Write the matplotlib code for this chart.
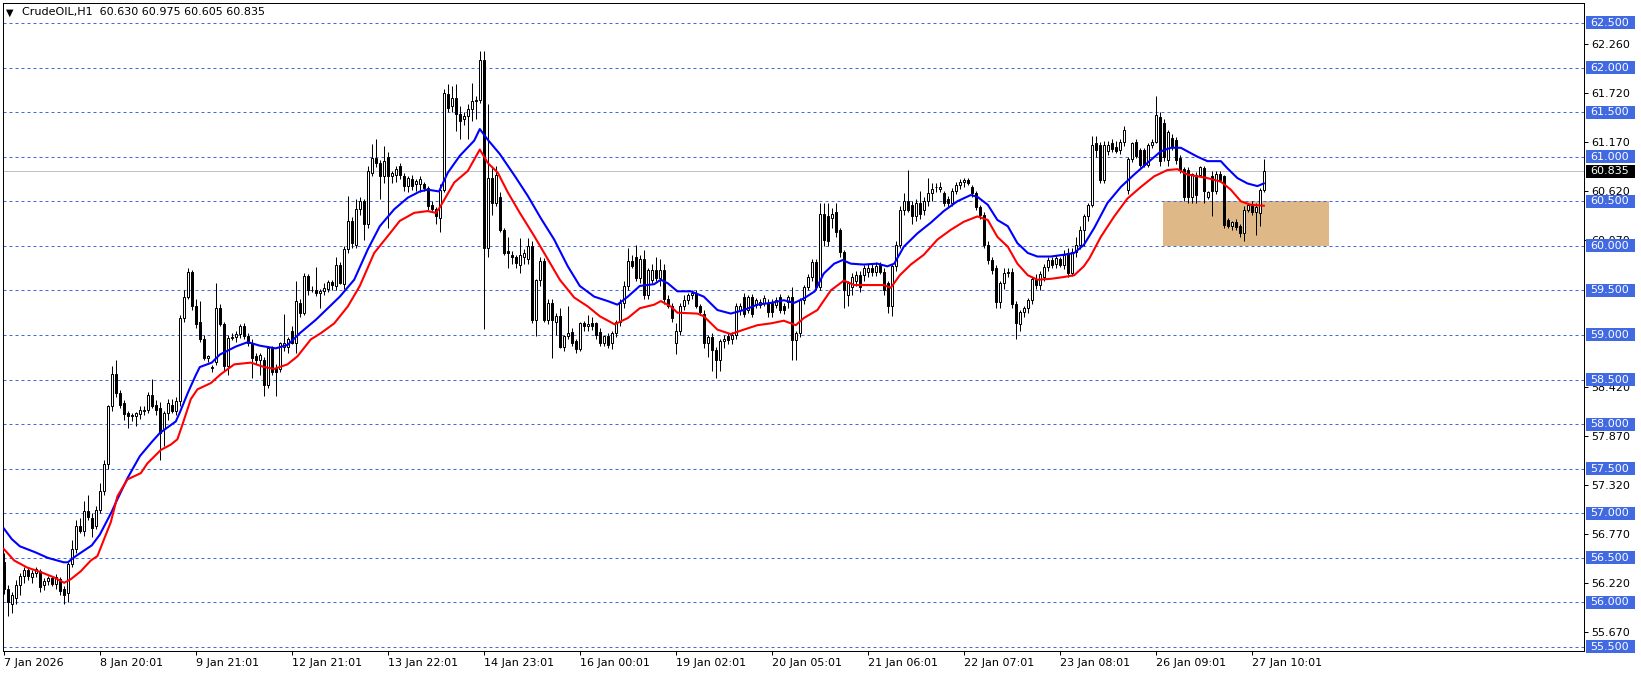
import numpy as np
import matplotlib.pyplot as plt
from matplotlib.patches import Rectangle
from matplotlib.transforms import blended_transform_factory

symbol = "CrudeOIL,H1"

# hourly candles (bar 0 = 7 Jan 2026)
opens = [
    56.45, 56.15, 55.98, 56.05, 56.20, 56.30, 56.36, 56.28, 56.33, 56.35,
    56.19, 56.24, 56.27, 56.21, 56.26, 56.15, 56.11, 56.43, 56.60, 56.86,
    56.80, 57.03, 56.95, 56.86, 57.04, 57.25, 57.55, 58.20, 58.56, 58.35,
    58.24, 58.13, 58.09, 58.09, 58.11, 58.15, 58.16, 58.33, 58.22, 58.18,
    57.95, 58.13, 58.22, 58.15, 58.26, 59.19, 59.43, 59.71, 59.32, 59.15,
    58.95, 58.74, 58.63, 58.70, 59.30, 59.12, 58.65, 58.97, 58.98, 59.01,
    59.10, 58.99, 58.91, 58.76, 58.72, 58.72, 58.44, 58.85, 58.63, 58.62,
    58.87, 58.87, 59.04, 58.91, 59.36, 59.25, 59.66, 59.51, 59.51, 59.47,
    59.49, 59.52, 59.59, 59.55, 59.79, 59.57, 59.97, 60.28, 60.01, 60.41,
    60.50, 60.24, 60.82, 60.99, 60.93, 60.78, 61.00, 60.78, 60.80, 60.90,
    60.78, 60.67, 60.75, 60.69, 60.69, 60.69, 60.65, 60.46, 60.41, 60.31,
    60.63, 61.70, 61.57, 61.66, 61.48, 61.42, 61.46, 61.53, 61.63, 61.64,
    62.09, 59.98, 60.76, 60.48, 60.55, 60.18, 59.94, 59.90, 59.87, 59.79,
    59.88, 59.85, 60.00, 59.17, 59.62, 59.83, 59.17, 59.36, 59.15, 59.21,
    58.87, 58.99, 59.03, 58.93, 58.84, 59.13, 59.10, 59.13, 59.13, 59.03,
    58.91, 58.99, 58.91, 59.02, 59.15, 59.36, 59.55, 59.83, 59.88, 59.64,
    59.85, 59.45, 59.62, 59.73, 59.64, 59.73, 59.40, 59.32, 58.91, 59.04,
    59.32, 59.39, 59.45, 59.47, 59.32, 59.24, 58.91, 58.98, 58.83, 58.72,
    58.93, 58.99, 58.96, 59.00, 59.28, 59.43, 59.28, 59.43, 59.34, 59.34,
    59.36, 59.36, 59.36, 59.34, 59.43, 59.32, 59.37, 59.43, 58.94, 59.02,
    59.39, 59.54, 59.65, 59.82, 59.54, 60.36, 60.33, 60.31, 60.38, 60.18,
    59.93, 59.45, 59.54, 59.60, 59.67, 59.67, 59.71, 59.75, 59.71, 59.79,
    59.71, 59.58, 59.32, 59.77, 60.01, 60.40, 60.50, 60.46, 60.33, 60.48,
    60.40, 60.50, 60.59, 60.66, 60.64, 60.59, 60.53, 60.48, 60.61, 60.68,
    60.72, 60.74, 60.66, 60.59, 60.44, 60.35, 60.01, 59.84, 59.75, 59.37,
    59.58, 59.70, 59.71, 59.35, 59.12, 59.26, 59.30, 59.39, 59.63, 59.56,
    59.65, 59.76, 59.84, 59.80, 59.85, 59.78, 59.92, 59.70, 59.93, 60.01,
    60.18, 60.33, 60.46, 61.15, 61.13, 60.74, 61.06, 61.15, 61.11, 61.08,
    61.17, 60.63, 60.97, 61.16, 61.07, 61.07, 60.91, 61.13, 61.17, 61.45,
    61.38, 60.96, 61.21, 61.19, 60.99, 60.86, 60.85, 60.55, 60.80, 60.80,
    60.87, 60.55, 60.78, 60.61, 60.81, 60.78, 60.29, 60.22, 60.27, 60.22,
    60.14, 60.40, 60.46, 60.38, 60.37, 60.630,
]
highs = [
    56.55, 56.20, 56.12, 56.25, 56.33, 56.40, 56.40, 56.36, 56.40, 56.37,
    56.27, 56.30, 56.30, 56.32, 56.28, 56.18, 56.45, 56.70, 56.92, 56.95,
    57.14, 57.21, 57.00, 57.08, 57.34, 57.60, 58.22, 58.65, 58.72, 58.38,
    58.27, 58.15, 58.13, 58.14, 58.20, 58.20, 58.36, 58.51, 58.27, 58.25,
    58.15, 58.28, 58.28, 58.30, 59.22, 59.51, 59.75, 59.73, 59.40, 59.38,
    59.00, 58.78, 58.66, 59.58, 59.35, 59.15, 59.00, 59.02, 59.05, 59.12,
    59.13, 59.02, 58.95, 58.80, 58.80, 58.75, 58.88, 58.88, 58.68, 58.92,
    59.23, 58.98, 59.10, 59.60, 59.40, 59.70, 59.68, 59.55, 59.76, 59.52,
    59.58, 59.62, 59.62, 59.88, 59.82, 60.00, 60.56, 60.32, 60.52, 60.55,
    60.53, 60.90, 61.14, 61.20, 60.96, 61.12, 61.05, 60.84, 60.90, 60.93,
    60.82, 60.78, 60.80, 60.75, 60.78, 60.72, 60.67, 60.50, 60.44, 60.69,
    61.76, 61.81, 61.79, 61.81, 61.57, 61.50, 61.59, 61.83, 61.68, 62.18,
    62.18, 61.59, 60.88, 60.90, 60.60, 60.20, 60.10, 59.94, 59.90, 60.09,
    59.97, 60.09, 60.05, 59.63, 59.87, 59.86, 59.40, 59.40, 59.25, 59.30,
    59.00, 59.33, 59.08, 58.96, 59.15, 59.16, 59.22, 59.20, 59.15, 59.08,
    58.99, 59.02, 59.05, 59.17, 59.40, 59.60, 59.98, 59.90, 60.01, 59.90,
    59.95, 59.75, 59.80, 59.88, 59.85, 59.80, 59.45, 59.36, 59.13, 59.36,
    59.45, 59.47, 59.50, 59.50, 59.35, 59.28, 59.00, 59.02, 58.86, 58.95,
    59.00, 59.02, 59.03, 59.36, 59.36, 59.47, 59.45, 59.46, 59.42, 59.40,
    59.45, 59.40, 59.40, 59.43, 59.46, 59.36, 59.45, 59.54, 59.05, 59.42,
    59.56, 59.68, 59.85, 59.85, 60.48, 60.48, 60.48, 60.42, 60.48, 60.20,
    59.95, 59.60, 59.70, 59.72, 59.72, 59.78, 59.80, 59.80, 59.82, 59.82,
    59.75, 59.60, 59.80, 60.05, 60.45, 60.59, 60.85, 60.50, 60.52, 60.61,
    60.55, 60.76, 60.70, 60.70, 60.72, 60.62, 60.56, 60.65, 60.72, 60.75,
    60.76, 60.76, 60.68, 60.62, 60.46, 60.38, 60.05, 59.88, 59.78, 59.60,
    59.75, 59.75, 59.75, 59.38, 59.28, 59.33, 59.42, 59.65, 59.68, 59.72,
    59.80, 59.88, 59.88, 59.90, 59.88, 59.95, 59.98, 59.98, 60.10, 60.22,
    60.36, 60.48, 61.23, 61.23, 61.16, 61.18, 61.18, 61.20, 61.18, 61.20,
    61.34, 61.00, 61.17, 61.20, 61.10, 61.10, 61.15, 61.20, 61.68, 61.50,
    61.42, 61.30, 61.25, 61.22, 61.02, 60.88, 60.88, 60.82, 60.83, 60.90,
    60.90, 60.62, 60.84, 60.84, 60.84, 60.80, 60.31, 60.28, 60.30, 60.24,
    60.45, 60.48, 60.50, 60.48, 60.65, 60.975,
]
lows = [
    56.10, 55.85, 55.88, 55.98, 56.08, 56.22, 56.25, 56.22, 56.28, 56.12,
    56.14, 56.20, 56.18, 56.15, 56.08, 55.98, 56.00, 56.40, 56.55, 56.78,
    56.75, 56.92, 56.73, 56.82, 57.00, 57.20, 57.50, 58.15, 58.30, 58.18,
    58.05, 57.96, 58.04, 57.98, 58.06, 58.10, 58.12, 58.18, 58.10, 57.60,
    57.75, 58.05, 58.12, 58.10, 58.20, 59.15, 59.40, 59.28, 59.08, 58.92,
    58.72, 58.70, 58.58, 58.66, 59.10, 58.60, 58.55, 58.94, 58.92, 58.97,
    58.95, 58.88, 58.52, 58.68, 58.55, 58.31, 58.40, 58.55, 58.31, 58.58,
    58.82, 58.80, 58.90, 58.80, 59.20, 59.22, 59.45, 59.48, 59.44, 59.30,
    59.45, 59.48, 59.50, 59.50, 59.57, 59.52, 59.92, 59.98, 59.98, 60.35,
    60.07, 60.20, 60.78, 60.88, 60.52, 60.70, 60.20, 60.71, 60.72, 60.75,
    60.62, 60.60, 60.63, 60.62, 60.60, 60.62, 60.40, 60.38, 60.24, 60.15,
    60.60, 61.50, 61.50, 61.29, 61.20, 61.35, 61.20, 61.40, 61.42, 61.60,
    59.07, 59.88, 60.35, 60.45, 60.15, 59.90, 59.75, 59.80, 59.75, 59.70,
    59.80, 59.80, 59.13, 58.99, 59.55, 59.15, 59.12, 58.74, 59.00, 58.85,
    58.82, 58.95, 58.88, 58.80, 58.82, 59.05, 59.05, 59.06, 58.95, 58.88,
    58.88, 58.85, 58.84, 58.98, 59.10, 59.30, 59.50, 59.75, 59.60, 59.58,
    59.40, 59.40, 59.58, 59.60, 59.55, 59.35, 59.30, 59.15, 58.79, 59.00,
    59.28, 59.35, 59.40, 59.30, 59.22, 58.85, 58.75, 58.60, 58.52, 58.60,
    58.85, 58.90, 58.90, 58.95, 59.22, 59.20, 59.25, 59.20, 59.30, 59.30,
    59.32, 59.20, 59.20, 59.30, 59.25, 59.24, 59.30, 58.72, 58.72, 58.98,
    59.35, 59.50, 59.60, 59.50, 59.50, 60.00, 60.00, 60.20, 60.10, 59.88,
    59.30, 59.32, 59.45, 59.55, 59.48, 59.60, 59.65, 59.66, 59.66, 59.68,
    59.45, 59.25, 59.21, 59.72, 59.98, 60.35, 60.38, 60.25, 60.28, 60.30,
    60.35, 60.45, 60.50, 60.60, 60.60, 60.45, 60.42, 60.45, 60.58, 60.64,
    60.66, 60.68, 60.55, 60.40, 60.30, 59.98, 59.80, 59.68, 59.30, 59.30,
    59.52, 59.65, 59.30, 58.95, 59.05, 59.20, 59.25, 59.35, 59.52, 59.50,
    59.60, 59.72, 59.75, 59.75, 59.76, 59.74, 59.65, 59.66, 59.88, 59.96,
    60.00, 60.28, 60.44, 61.00, 60.70, 60.70, 61.02, 61.05, 61.04, 61.03,
    61.12, 60.58, 60.94, 60.98, 60.88, 60.88, 60.88, 61.10, 61.15, 60.90,
    60.95, 60.90, 61.08, 60.92, 60.82, 60.50, 60.48, 60.48, 60.48, 60.78,
    60.48, 60.52, 60.33, 60.58, 60.72, 60.20, 60.20, 60.18, 60.18, 60.10,
    60.05, 60.38, 60.35, 60.12, 60.22, 60.605,
]
closes = [
    56.15, 56.00, 56.08, 56.20, 56.30, 56.36, 56.30, 56.33, 56.37, 56.17,
    56.24, 56.27, 56.21, 56.28, 56.13, 56.08, 56.43, 56.60, 56.86, 56.80,
    57.03, 56.96, 56.84, 57.04, 57.25, 57.55, 58.20, 58.56, 58.35, 58.22,
    58.11, 58.09, 58.10, 58.12, 58.16, 58.16, 58.33, 58.20, 58.16, 57.90,
    58.12, 58.24, 58.15, 58.26, 59.19, 59.43, 59.71, 59.32, 59.12, 58.95,
    58.74, 58.76, 58.64, 59.30, 59.12, 58.65, 58.97, 58.98, 59.01, 59.10,
    58.99, 58.91, 58.74, 58.72, 58.78, 58.44, 58.85, 58.59, 58.59, 58.91,
    58.91, 58.95, 58.91, 59.38, 59.25, 59.66, 59.51, 59.50, 59.47, 59.49,
    59.53, 59.59, 59.56, 59.79, 59.58, 59.97, 60.28, 60.03, 60.41, 60.50,
    60.24, 60.84, 60.99, 60.93, 60.78, 60.95, 60.78, 60.82, 60.86, 60.80,
    60.67, 60.76, 60.67, 60.73, 60.75, 60.65, 60.45, 60.41, 60.33, 60.63,
    61.72, 61.55, 61.66, 61.48, 61.40, 61.46, 61.53, 61.63, 61.64, 62.09,
    59.98, 60.76, 60.48, 60.80, 60.18, 59.92, 59.92, 59.87, 59.81, 59.90,
    59.92, 60.00, 59.17, 59.62, 59.83, 59.17, 59.36, 59.17, 59.21, 58.87,
    58.99, 59.02, 58.91, 58.84, 59.13, 59.10, 59.12, 59.10, 59.00, 58.91,
    58.99, 58.89, 59.02, 59.15, 59.36, 59.55, 59.83, 59.77, 59.64, 59.85,
    59.45, 59.73, 59.73, 59.64, 59.73, 59.40, 59.32, 59.19, 59.04, 59.32,
    59.39, 59.45, 59.47, 59.32, 59.26, 58.91, 58.98, 58.83, 58.72, 58.93,
    58.96, 58.94, 59.00, 59.32, 59.32, 59.24, 59.43, 59.24, 59.39, 59.37,
    59.41, 59.26, 59.26, 59.39, 59.28, 59.28, 59.43, 58.94, 59.02, 59.39,
    59.54, 59.65, 59.82, 59.54, 60.36, 60.07, 60.05, 60.36, 60.16, 59.93,
    59.50, 59.58, 59.65, 59.67, 59.54, 59.75, 59.75, 59.71, 59.77, 59.71,
    59.50, 59.32, 59.77, 60.01, 60.40, 60.50, 60.40, 60.33, 60.48, 60.36,
    60.50, 60.59, 60.64, 60.66, 60.66, 60.48, 60.48, 60.61, 60.68, 60.72,
    60.74, 60.70, 60.59, 60.44, 60.35, 60.01, 59.84, 59.73, 59.37, 59.58,
    59.70, 59.71, 59.35, 59.13, 59.26, 59.30, 59.39, 59.63, 59.56, 59.68,
    59.76, 59.84, 59.78, 59.86, 59.78, 59.90, 59.70, 59.93, 60.01, 60.18,
    60.33, 60.46, 61.13, 61.08, 60.74, 61.13, 61.13, 61.09, 61.06, 61.17,
    61.30, 60.97, 61.15, 61.01, 60.91, 60.91, 61.13, 61.17, 61.47, 60.95,
    61.00, 61.28, 61.11, 60.96, 60.85, 60.55, 60.55, 60.81, 60.57, 60.88,
    60.61, 60.60, 60.61, 60.81, 60.74, 60.23, 60.22, 60.27, 60.21, 60.14,
    60.40, 60.46, 60.38, 60.44, 60.63, 60.835,
]

# the two moving averages, read at sample bars
blue_bars = [
    0, 2, 4, 8, 11, 15, 16, 18, 22, 24, 27, 28, 31, 34, 37, 39, 43, 44, 46, 48,
    49, 52, 54, 58, 61, 64, 68, 71, 74, 78, 81, 84, 87.6, 91, 94, 97.6, 101, 104, 106, 108.8,
    111, 114, 117.6, 119, 121, 124, 127.8, 131, 134.25, 137.6, 141, 144, 147.6, 151, 153.4,
    156, 159, 162.6, 164.25, 166, 168.4, 171.75, 175, 178.4, 181.75, 185, 188.4, 191.75,
    195, 197.6, 200, 202.75, 205, 207.6, 209.7, 211.75, 215, 218.4, 220.9, 222.6, 225,
    228.4, 231.75, 235, 238.4, 241.75, 243.4, 246, 248.4, 251, 253.4, 256, 258.4, 261.75,
    265, 267.6, 270, 272.6, 275.9, 279.25, 282.6, 285.9, 289.25, 291.75, 294.25, 295.9,
    298.4, 300.9, 304.25, 305.9, 308.4, 310.9, 313.4, 315,
]
blue_ma = [
    56.83, 56.71, 56.63, 56.56, 56.50, 56.45, 56.45, 56.52, 56.64, 56.76,
    57.02, 57.12, 57.40, 57.64, 57.80, 57.90, 58.03, 58.13, 58.35, 58.55,
    58.64, 58.69, 58.78, 58.87, 58.92, 58.88, 58.85, 58.89, 59.02, 59.17,
    59.30, 59.43, 59.62, 59.96, 60.22, 60.41, 60.54, 60.61, 60.63, 60.61,
    60.82, 61.01, 61.18, 61.31, 61.19, 61.03, 60.78, 60.56, 60.31, 60.07,
    59.77, 59.55, 59.43, 59.38, 59.34, 59.43, 59.55, 59.57, 59.62, 59.58,
    59.49, 59.49, 59.43, 59.28, 59.24, 59.28, 59.34, 59.36, 59.39, 59.36,
    59.41, 59.49, 59.69, 59.80, 59.84, 59.80, 59.79, 59.80, 59.77, 59.80,
    59.99, 60.14, 60.26, 60.39, 60.50, 60.57, 60.55, 60.46, 60.29, 60.22,
    60.03, 59.92, 59.88, 59.88, 59.90, 59.92, 60.01, 60.20, 60.48, 60.66,
    60.80, 60.93, 61.06, 61.10, 61.10, 61.06, 61.00, 60.95, 60.95, 60.87,
    60.76, 60.70, 60.67, 60.70,
]
red_bars = [
    0, 2.6, 5.9, 9.25, 12.6, 15.1, 16.75, 19.25, 21.75, 23.4, 26.75, 28.4, 30.9, 34.25,
    35.9, 39.25, 41.75, 43.4, 44.7, 46.75, 48.4, 51.75, 54.25, 57.6, 61.75, 65.1, 67.6,
    70.9, 73.4, 76.75, 79.25, 82.6, 86, 89, 92.6, 96, 99, 102.6, 106, 108, 109, 112.6,
    116, 119, 121, 123.5, 126, 129, 132.6, 136, 139, 142.6, 146, 149, 152.7, 156, 159,
    162.6, 164.25, 166.75, 168.4, 173.4, 175, 178.4, 181.75, 185, 188.4, 191.75, 195,
    198, 200, 203.4, 206.75, 210, 212.6, 216.75, 220, 221.75, 224, 226.75, 230, 233.4,
    236.75, 240, 243.4, 246, 248.4, 251, 253.4, 256, 258.4, 261.75, 265, 267.6, 270,
    271.4, 274.25, 277.6, 280.9, 284.25, 287.6, 290.9, 293.4, 295.9, 298.4, 300.9,
    304.25, 306.75, 309.25, 311.75, 315,
]
red_ma = [
    56.60, 56.47, 56.39, 56.34, 56.28, 56.22, 56.26, 56.35, 56.47, 56.52, 56.90, 57.19,
    57.38, 57.45, 57.56, 57.71, 57.77, 57.83, 58.00, 58.28, 58.39, 58.46, 58.56, 58.67,
    58.69, 58.64, 58.62, 58.67, 58.76, 58.95, 59.02, 59.13, 59.32, 59.55, 59.92, 60.11,
    60.28, 60.37, 60.39, 60.37, 60.43, 60.71, 60.84, 61.08, 60.93, 60.82, 60.60, 60.37,
    60.11, 59.85, 59.62, 59.42, 59.32, 59.21, 59.12, 59.19, 59.30, 59.34, 59.38, 59.32,
    59.25, 59.24, 59.21, 59.06, 59.01, 59.06, 59.11, 59.13, 59.16, 59.11, 59.19, 59.28,
    59.50, 59.61, 59.56, 59.56, 59.56, 59.53, 59.67, 59.79, 59.90, 60.07, 60.18, 60.27,
    60.33, 60.29, 60.10, 59.99, 59.80, 59.67, 59.62, 59.63, 59.65, 59.67, 59.77, 59.86,
    60.10, 60.33, 60.53, 60.66, 60.78, 60.85, 60.86, 60.80, 60.78, 60.76, 60.72, 60.63,
    60.50, 60.46, 60.45,
]

level_prices = [55.5, 56.0, 56.5, 57.0, 57.5, 58.0, 58.5, 59.0, 59.5, 60.0, 60.5, 61.0, 61.5, 62.0, 62.5]
# scale values left visible next to the level boxes
scale_ticks = [55.67, 56.22, 56.77, 57.32, 57.87, 58.42, 60.07, 60.62, 61.17, 61.72, 62.26]
time_tick_bars = [0, 24, 48, 72, 96, 120, 144, 168, 192, 216, 240, 264, 288, 312]
time_labels = ["7 Jan 2026", "8 Jan 20:01", "9 Jan 21:01", "12 Jan 21:01", "13 Jan 22:01",
               "14 Jan 23:01", "16 Jan 00:01", "19 Jan 02:01", "20 Jan 05:01", "21 Jan 06:01",
               "22 Jan 07:01", "23 Jan 08:01", "26 Jan 09:01", "27 Jan 10:01"]
zone_bars = (289.7, 331.3)
zone_prices = (60.0, 60.5)

W, H = 1641, 675
PX = 0.72  # one pixel in points
fig = plt.figure(figsize=(W / 100, H / 100), dpi=100)
ax = fig.add_axes([3 / W, 24 / H, 1581 / W, 648 / H])
ax.set_xlim(-0.2, -0.2 + 1581 / 4)
ax.set_ylim(55.455, 62.724)

# zone box and price levels
ax.add_patch(Rectangle((zone_bars[0], zone_prices[0]), zone_bars[1] - zone_bars[0],
                       zone_prices[1] - zone_prices[0], facecolor='#DEB887', edgecolor='none', zorder=0.5))
for p in level_prices:
    ax.axhline(p, color='#4169E1', lw=PX, ls=(0, (3, 3)), zorder=0.8)
ax.axhline(closes[-1], color='#C0C0C0', lw=PX, zorder=0.7)

# candles
x = np.arange(len(closes))
o = np.array(opens)
c = np.array(closes)
ax.vlines(x, lows, highs, color='black', lw=PX, zorder=2)
ax.bar(x, np.abs(c - o), bottom=np.minimum(o, c), width=0.6,
       color=np.where(c >= o, 'white', 'black'), edgecolor='black', linewidth=PX, zorder=3)

ax.plot(blue_bars, blue_ma, color='#0000FF', lw=1.5, zorder=4)
ax.plot(red_bars, red_ma, color='#FF0000', lw=1.5, zorder=4)

# axes look
for s in ax.spines.values():
    s.set_linewidth(PX)
ax.set_xticks(time_tick_bars)
ax.set_xticklabels(time_labels, ha='left')
ax.tick_params(axis='x', direction='out', length=3, width=PX, pad=2, labelsize=8)
ax.yaxis.tick_right()
ax.set_yticks(scale_ticks)
ax.set_yticklabels([f'{t:.3f}' for t in scale_ticks])
ax.tick_params(axis='y', direction='out', length=3, width=PX, pad=2.5, labelsize=8)

# price boxes on the right scale
trans = blended_transform_factory(ax.transAxes, ax.transData)
box_w = 49 / 1581
box_h = 13 / 89.14
for p, fc in [(lv, '#4169E1') for lv in level_prices] + [(closes[-1], 'black')]:
    ax.add_patch(Rectangle((1 + 2 / 1581, p - box_h / 2), box_w, box_h, transform=trans,
                           facecolor=fc, edgecolor='none', clip_on=False, zorder=5))
    ax.text(1 + 6 / 1581, p, f'{p:.3f}', transform=trans, color='white', fontsize=8,
            va='center', ha='left', clip_on=False, zorder=6)

# header
fig.text(6 / W, 1 - 12.5 / H, '\u25bc', fontsize=7, va='center')
fig.text(22 / W, 1 - 12.5 / H,
         f'{symbol}  {opens[-1]:.3f} {highs[-1]:.3f} {lows[-1]:.3f} {closes[-1]:.3f}',
         fontsize=8, va='center')

fig.savefig('out.png', dpi=100, facecolor='white')
